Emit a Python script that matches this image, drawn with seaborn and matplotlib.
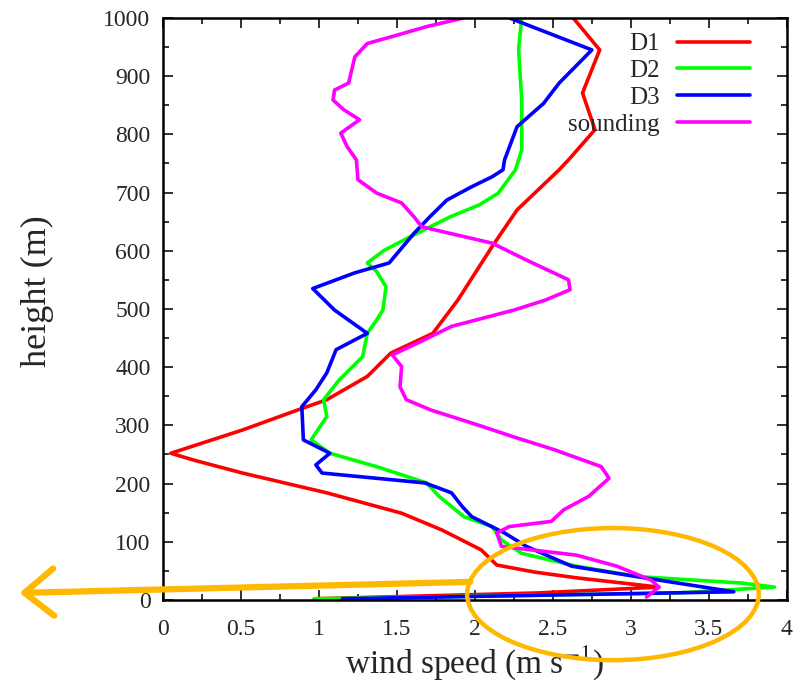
import numpy as np
import matplotlib
matplotlib.use("Agg")
import matplotlib.pyplot as plt
from matplotlib.patches import Ellipse
import seaborn as sns

# vertical wind profiles, listed from top to bottom (height m, speed m/s)
d1_h = [1000, 945, 871, 808, 756, 739, 670, 607, 515, 458, 424, 384, 344, 326, 292,
        252, 240, 218, 184, 149, 120, 86, 60, 48, 38, 22, 12, 2]
d1_u = [2.63, 2.80, 2.69, 2.77, 2.60, 2.54, 2.27, 2.11, 1.89, 1.73, 1.46, 1.31, 1.05, 0.86, 0.51,
        0.05, 0.20, 0.51, 1.05, 1.53, 1.79, 2.04, 2.14, 2.38, 2.65, 3.18, 2.40, 0.97]

d2_h = [1000, 945, 860, 773, 739, 699, 679, 658, 630, 601, 579, 564, 538, 498, 481, 458,
        418, 378, 344, 315, 275, 252, 229, 201, 178, 143, 126, 103, 80, 58, 40, 29, 22, 12, 2]
d2_u = [2.30, 2.28, 2.30, 2.30, 2.26, 2.15, 2.03, 1.84, 1.63, 1.42, 1.31, 1.37, 1.43, 1.41, 1.37, 1.31,
        1.28, 1.13, 1.03, 1.05, 0.95, 1.07, 1.37, 1.69, 1.77, 1.93, 2.11, 2.17, 2.30, 2.65, 3.05, 3.71, 3.92, 3.30, 0.97]

d3_h = [1000, 945, 888, 853, 813, 756, 739, 727, 710, 687, 658, 630, 579, 562, 535, 498,
        458, 430, 390, 361, 332, 275, 252, 232, 218, 201, 184, 160, 143, 115, 92, 58, 34, 14, 2]
d3_u = [2.22, 2.75, 2.54, 2.44, 2.27, 2.19, 2.18, 2.11, 1.98, 1.82, 1.71, 1.61, 1.45, 1.23, 0.96, 1.10,
        1.31, 1.11, 1.05, 0.98, 0.89, 0.90, 1.07, 0.98, 1.02, 1.68, 1.85, 1.92, 1.98, 2.19, 2.33, 2.62, 3.18, 3.66, 1.15]

snd_h = [1000, 985, 968, 956, 933, 888, 876, 859, 842, 825, 802, 779, 756, 722, 699, 682,
         658, 641, 613, 584, 550, 533, 515, 498, 470, 441, 421, 401, 366, 344, 326, 304,
         280, 258, 229, 209, 178, 155, 135, 126, 115, 92, 77, 58, 34, 22, 5]
snd_u = [1.93, 1.69, 1.47, 1.31, 1.23, 1.19, 1.10, 1.09, 1.16, 1.26, 1.14, 1.18, 1.24, 1.25, 1.37, 1.53,
         1.61, 1.66, 2.11, 2.33, 2.60, 2.61, 2.45, 2.25, 1.85, 1.63, 1.47, 1.53, 1.52, 1.56, 1.72, 1.98,
         2.25, 2.51, 2.81, 2.86, 2.73, 2.57, 2.49, 2.22, 2.14, 2.17, 2.65, 2.91, 3.13, 3.18, 3.10]

series = [("D1", d1_u, d1_h, "#ff0000"),
          ("D2", d2_u, d2_h, "#00ff00"),
          ("D3", d3_u, d3_h, "#0000ff"),
          ("sounding", snd_u, snd_h, "#ff00ff")]

sns.set_style("ticks")
plt.rcParams['font.family'] = ['Liberation Serif', 'DejaVu Serif']
plt.rcParams['mathtext.fontset'] = 'stix'

fig = plt.figure(figsize=(8.07, 6.88), dpi=100)
ax = fig.add_axes([0.202, 0.128, 0.773, 0.846])

for name, u, h, col in series:
    sns.lineplot(x=u, y=h, sort=False, estimator=None, color=col, lw=2.6,
                 label=name, ax=ax)

ax.set_xlim(0, 4)
ax.set_ylim(0, 1000)
ax.set_xticks(np.arange(0, 4.01, 0.5))
ax.set_xticklabels(['0', '0.5', '1', '1.5', '2', '2.5', '3', '3.5', '4'])
ax.set_xticks(np.arange(0, 4.01, 0.25), minor=True)
ax.set_yticks(np.arange(0, 1001, 100))
ax.set_yticks(np.arange(0, 1001, 50), minor=True)
ax.tick_params(which='both', direction='in', top=True, right=True,
               labelsize=17, width=1.3, color='#222222')
ax.tick_params(which='major', length=7)
ax.tick_params(which='minor', length=4)
ax.tick_params(axis='x', which='major', pad=14)
ax.tick_params(axis='y', which='major', pad=9)
for s in ax.spines.values():
    s.set_linewidth(1.8)
    s.set_color('black')

ax.set_xlabel(r'wind speed (m s$^{\mathrm{-1}}$)', fontsize=24, labelpad=2)
ax.set_ylabel('height (m)', fontsize=26)
ax.yaxis.set_label_coords(-0.175, 0.53)

ax.legend(loc='upper right', bbox_to_anchor=(0.965, 1.0), frameon=False,
          markerfirst=False, fontsize=18, handlelength=2.9, labelspacing=0.17,
          handletextpad=0.7, borderaxespad=0.2)

# highlight of the near-surface jet
orange = '#ffb800'
ax.add_patch(Ellipse((2.885, 10), 1.87, 227, fill=False, ec=orange, lw=3.2,
                     clip_on=False, zorder=5))
ax.annotate('', xy=(-0.92, 12), xytext=(1.97, 31), annotation_clip=False,
            arrowprops=dict(arrowstyle='->,head_length=0.42,head_width=0.34',
                            mutation_scale=50, color=orange, lw=4.5,
                            capstyle='round', joinstyle='round',
                            shrinkA=0, shrinkB=0), zorder=5)

fig.savefig('out.png', dpi=100)
